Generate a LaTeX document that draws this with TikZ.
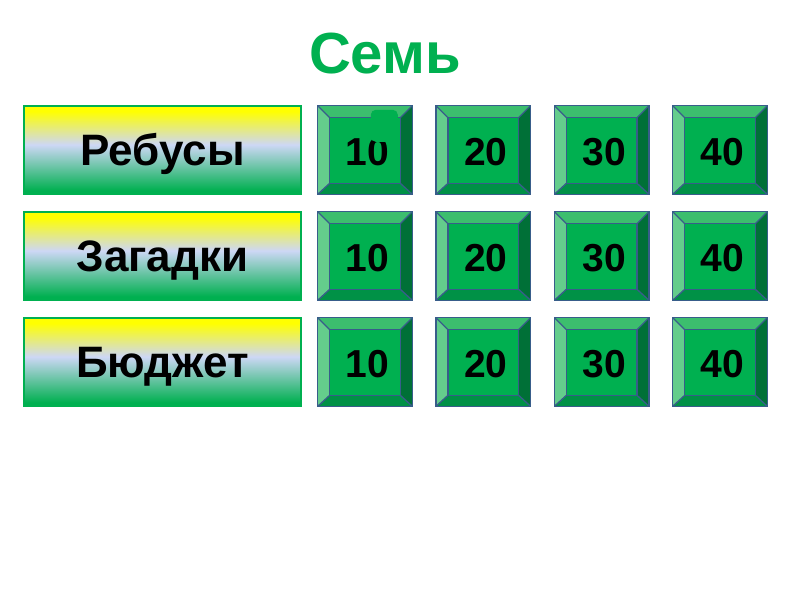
\documentclass[tikz,border=0pt]{standalone}
\usepackage{fontspec}
\setmainfont{Liberation Sans}
\usetikzlibrary{calc}
\definecolor{face}{RGB}{0,176,80}
\definecolor{topbev}{RGB}{60,190,110}
\definecolor{leftbev}{RGB}{100,205,140}
\definecolor{rightbev}{RGB}{0,112,55}
\definecolor{botbev}{RGB}{0,145,70}
\definecolor{edge}{RGB}{56,93,138}
\definecolor{catgreen}{RGB}{0,176,80}
\definecolor{catlav}{RGB}{205,215,245}
\definecolor{catyellow}{RGB}{255,255,0}
\definecolor{catedge}{RGB}{0,176,80}
\definecolor{titlegreen}{RGB}{0,176,80}
\pgfdeclareverticalshading{catshade}{100bp}{color(0bp)=(catgreen); color(27bp)=(catgreen); color(53bp)=(catlav); color(72bp)=(catyellow); color(100bp)=(catyellow)}
\begin{document}
\begin{tikzpicture}[x=1pt,y=1pt,
  catbox/.style={rectangle, minimum width=277pt, minimum height=88pt, inner sep=0pt, draw=catedge, line width=1.2pt, shading=catshade},
  cattext/.style={font=\fontsize{44}{46}\selectfont\bfseries, anchor=base},
  btn/.style={rectangle, minimum width=94pt, minimum height=88pt, inner sep=0pt, fill=face},
  numtext/.style={font=\fontsize{39}{41}\selectfont\bfseries, inner sep=0pt},
  bevel/.style={draw=edge, line width=1.3pt, line join=miter},
  titlestyle/.style={font=\fontsize{58}{60}\selectfont\bfseries, text=titlegreen, anchor=base}
 ]
\useasboundingbox (0,0) rectangle (800,-600);
\fill[white] (0,0) rectangle (800,-600);

\node[titlestyle] (title) at (385,-73) {Семь};

\node[catbox] (cat1) at (162.5,-150) {};
\node[catbox] (cat2) at (162.5,-256) {};
\node[catbox] (cat3) at (162.5,-362) {};
\node[cattext] (cat1t) at ($(cat1.center)+(0,-15)$) {Ребусы};
\node[cattext] (cat2t) at ($(cat2.center)+(0,-15)$) {Загадки};
\node[cattext] (cat3t) at ($(cat3.center)+(0,-15)$) {Бюджет};

\foreach \r/\ry in {1/106,2/212,3/318}{
  \foreach \c/\cx/\v in {1/318/10,2/436.3/20,3/554.7/30,4/673/40}{
    \node[btn] (b\r\c) at (\cx+47,-\ry-44) {};
    \coordinate (b\r\c-inw) at ($(b\r\c.north west)+(12,-12)$);
    \coordinate (b\r\c-ine) at ($(b\r\c.north east)+(-12,-12)$);
    \coordinate (b\r\c-ise) at ($(b\r\c.south east)+(-12,11)$);
    \coordinate (b\r\c-isw) at ($(b\r\c.south west)+(12,11)$);
    \fill[topbev] (b\r\c.north west) -- (b\r\c.north east) -- (b\r\c-ine) -- (b\r\c-inw) -- cycle;
    \fill[rightbev] (b\r\c.north east) -- (b\r\c.south east) -- (b\r\c-ise) -- (b\r\c-ine) -- cycle;
    \fill[botbev] (b\r\c.south east) -- (b\r\c.south west) -- (b\r\c-isw) -- (b\r\c-ise) -- cycle;
    \fill[leftbev] (b\r\c.south west) -- (b\r\c.north west) -- (b\r\c-inw) -- (b\r\c-isw) -- cycle;
    \draw[bevel] (b\r\c-inw) rectangle (b\r\c-ise);
    \draw[bevel] (b\r\c.north west) -- (b\r\c-inw);
    \draw[bevel] (b\r\c.north east) -- (b\r\c-ine);
    \draw[bevel] (b\r\c.south east) -- (b\r\c-ise);
    \draw[bevel] (b\r\c.south west) -- (b\r\c-isw);
    \draw[bevel] (b\r\c.north west) rectangle (b\r\c.south east);
    \node[numtext] (n\r\c) at ($(b\r\c.center)+(2.5,-2)$) {\v};
  }
}
\fill[face, rounded corners=5pt] ($(b11.north west)+(53,-4)$) rectangle ($(b11.north west)+(80,-36)$);
\end{tikzpicture}
\end{document}
